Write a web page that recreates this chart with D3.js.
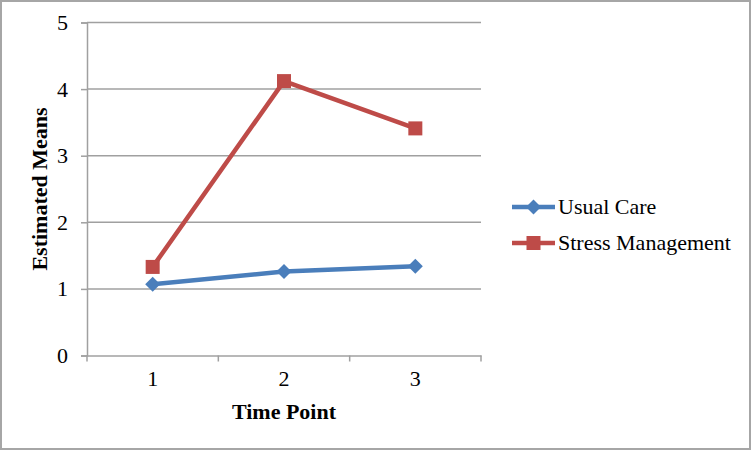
<!DOCTYPE html>
<html>
<head>
<meta charset="utf-8">
<script src="https://cdn.jsdelivr.net/npm/d3@7"></script>
<style>
  body { margin: 0; background: #fff; }
  svg { display: block; font-family: "Liberation Serif", "Times New Roman", serif; }
</style>
</head>
<body>
<div id="chart"></div>
<script>
const timePoints = ["1", "2", "3"];
const usualCare = [1.07, 1.26, 1.34];
const stressManagement = [1.33, 4.12, 3.41];
const yTicks = [0, 1, 2, 3, 4, 5];

const series = [
  {name: "Usual Care", values: usualCare, color: "#4a7ebb", marker: "diamond"},
  {name: "Stress Management", values: stressManagement, color: "#be4b48", marker: "square"}
];

const W = 752, H = 451;
const plot = {left: 87, right: 481, top: 22.5, bottom: 355.5};
const fontSize = 22;

const svg = d3.select("#chart").append("svg")
  .attr("width", W)
  .attr("height", H);

// outer frame
svg.append("rect")
  .attr("x", 1).attr("y", 1)
  .attr("width", W - 3).attr("height", H - 3)
  .attr("fill", "#fff")
  .attr("stroke", "#a6a6a6")
  .attr("stroke-width", 2);

const x = d3.scaleBand()
  .domain(timePoints)
  .range([plot.left, plot.right]);

const y = d3.scaleLinear()
  .domain([0, 5])
  .range([plot.bottom, plot.top]);

// y axis
const yAxis = svg.append("g")
  .attr("transform", `translate(${plot.left},0)`)
  .call(d3.axisLeft(y).tickValues(yTicks).tickSize(6).tickPadding(13).tickFormat(d3.format("d")));
yAxis.select(".domain").attr("stroke", "#a0a0a0").attr("stroke-width", 1.5);
yAxis.selectAll(".tick line").attr("stroke", "#a0a0a0").attr("stroke-width", 1.5);
yAxis.selectAll(".tick text").attr("font-size", fontSize).attr("fill", "#000")
  .attr("font-family", "Liberation Serif, Times New Roman, serif");

// gridlines
svg.append("g").selectAll("line")
  .data(yTicks.filter(d => d > 0))
  .join("line")
  .attr("x1", plot.left).attr("x2", plot.right)
  .attr("y1", d => y(d)).attr("y2", d => y(d))
  .attr("stroke", "#a0a0a0")
  .attr("stroke-width", 1.5);

// x axis
const xAxis = svg.append("g")
  .attr("transform", `translate(0,${plot.bottom})`)
  .call(d3.axisBottom(x).tickSize(0).tickPadding(15));
xAxis.select(".domain").attr("stroke", "#a0a0a0").attr("stroke-width", 1.5);
xAxis.selectAll(".tick text").attr("font-size", fontSize).attr("fill", "#000")
  .attr("font-family", "Liberation Serif, Times New Roman, serif");

// category boundary ticks
const bounds = timePoints.map(d => x(d)).concat([x(timePoints[timePoints.length - 1]) + x.bandwidth()]);
svg.append("g").selectAll("line")
  .data(bounds)
  .join("line")
  .attr("x1", d => d).attr("x2", d => d)
  .attr("y1", plot.bottom).attr("y2", plot.bottom + 6)
  .attr("stroke", "#a0a0a0")
  .attr("stroke-width", 1.5);

// axis titles
svg.append("text")
  .attr("x", (plot.left + plot.right) / 2)
  .attr("y", 419)
  .attr("text-anchor", "middle")
  .attr("font-size", fontSize)
  .attr("font-weight", "bold")
  .text("Time Point");

svg.append("text")
  .attr("transform", `translate(47,${(plot.top + plot.bottom) / 2}) rotate(-90)`)
  .attr("text-anchor", "middle")
  .attr("font-size", fontSize)
  .attr("font-weight", "bold")
  .text("Estimated Means");

const cx = (d, i) => x(timePoints[i]) + x.bandwidth() / 2;

const line = d3.line()
  .x((d, i) => cx(d, i))
  .y(d => y(d));

function drawMarker(g, type, color) {
  if (type === "diamond") {
    g.append("path")
      .attr("d", "M0,-7.5L7.5,0L0,7.5L-7.5,0Z")
      .attr("fill", color);
  } else {
    g.append("rect")
      .attr("x", -7).attr("y", -7)
      .attr("width", 14).attr("height", 14)
      .attr("fill", color);
  }
}

series.forEach(s => {
  svg.append("path")
    .datum(s.values)
    .attr("d", line)
    .attr("fill", "none")
    .attr("stroke", s.color)
    .attr("stroke-width", 4.5)
    .attr("stroke-linejoin", "round");

  s.values.forEach((v, i) => {
    const g = svg.append("g").attr("transform", `translate(${cx(v, i)},${y(v)})`);
    drawMarker(g, s.marker, s.color);
  });
});

// legend
const legend = svg.append("g");
series.forEach((s, i) => {
  const ly = 207 + i * 36;
  legend.append("line")
    .attr("x1", 512).attr("x2", 555)
    .attr("y1", ly).attr("y2", ly)
    .attr("stroke", s.color)
    .attr("stroke-width", 4.5);
  const g = legend.append("g").attr("transform", `translate(533.5,${ly})`);
  drawMarker(g, s.marker, s.color);
  legend.append("text")
    .attr("x", 558)
    .attr("y", ly + 7)
    .attr("font-size", fontSize)
    .text(s.name);
});
</script>
</body>
</html>
